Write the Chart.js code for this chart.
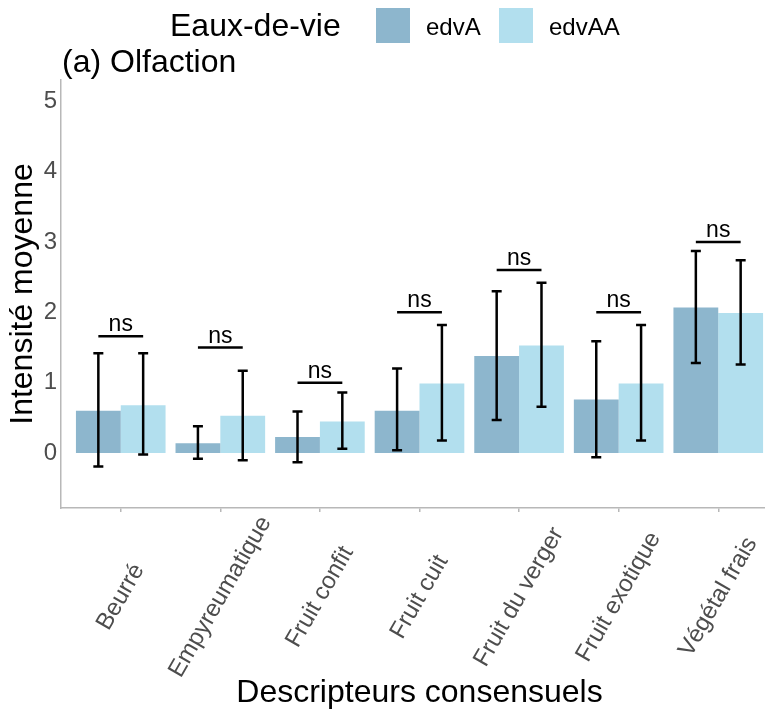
<!DOCTYPE html>
<html>
<head>
<meta charset="utf-8">
<script src="https://cdn.jsdelivr.net/npm/chart.js@4.4.0/dist/chart.umd.min.js"></script>
<style>
  html, body { margin: 0; padding: 0; background: #fff; overflow: hidden; }
  #wrap { width: 765px; height: 716px; overflow: hidden; }
</style>
</head>
<body>
<div id="wrap"><canvas id="olfaction" width="780" height="716"></canvas></div>
<script>
// Descriptors and mean intensities
const categories = ['Beurré', 'Empyreumatique', 'Fruit confit', 'Fruit cuit', 'Fruit du verger', 'Fruit exotique', 'Végétal frais'];
const edvA = [0.60, 0.14, 0.23, 0.60, 1.38, 0.76, 2.07];
const edvAA = [0.68, 0.53, 0.45, 0.99, 1.53, 0.99, 1.99];
const edvALow = [-0.19, -0.08, -0.13, 0.04, 0.47, -0.06, 1.28];
const edvAHigh = [1.42, 0.38, 0.59, 1.20, 2.30, 1.59, 2.87];
const edvAALow = [-0.02, -0.10, 0.06, 0.18, 0.66, 0.18, 1.26];
const edvAAHigh = [1.42, 1.17, 0.86, 1.82, 2.42, 1.82, 2.74];
const nsLevel = [1.66, 1.50, 1.00, 2.00, 2.60, 2.00, 3.00];
const yTicks = [0, 1, 2, 3, 4, 5];

const FONT = '"Liberation Sans", Arial, sans-serif';
const colours = { edvA: '#8DB6CD', edvAA: '#B2DFEE', axis: '#b8b8b8', label: '#4d4d4d' };

Chart.defaults.font.family = FONT;

// error bars + "ns" brackets, placed with the chart's own scales
const errorBars = {
  id: 'errorBars',
  afterDatasetsDraw(chart) {
    const ctx = chart.ctx;
    const y = chart.scales.y;
    const ranges = [[edvALow, edvAHigh], [edvAALow, edvAAHigh]];
    ctx.save();
    ctx.strokeStyle = '#000';
    ctx.lineWidth = 2.5;
    ranges.forEach(([lo, hi], d) => {
      chart.getDatasetMeta(d).data.forEach((bar, i) => {
        const top = y.getPixelForValue(hi[i]);
        const bot = y.getPixelForValue(lo[i]);
        ctx.beginPath();
        ctx.moveTo(bar.x, top); ctx.lineTo(bar.x, bot);
        ctx.moveTo(bar.x - 5, top); ctx.lineTo(bar.x + 5, top);
        ctx.moveTo(bar.x - 5, bot); ctx.lineTo(bar.x + 5, bot);
        ctx.stroke();
      });
    });
    const a = chart.getDatasetMeta(0).data;
    const b = chart.getDatasetMeta(1).data;
    ctx.font = '23px ' + FONT;
    ctx.fillStyle = '#000';
    ctx.textAlign = 'center';
    ctx.textBaseline = 'alphabetic';
    nsLevel.forEach((v, i) => {
      const py = y.getPixelForValue(v);
      ctx.beginPath();
      ctx.moveTo(a[i].x, py); ctx.lineTo(b[i].x, py);
      ctx.stroke();
      ctx.fillText('ns', (a[i].x + b[i].x) / 2, py - 5);
    });
    ctx.restore();
  }
};

// rotated, centred category labels + title + legend
const decorations = {
  id: 'decorations',
  afterDraw(chart) {
    const ctx = chart.ctx;
    const x = chart.scales.x;
    ctx.save();
    ctx.font = '24px ' + FONT;
    ctx.fillStyle = colours.label;
    ctx.textAlign = 'center';
    ctx.textBaseline = 'middle';
    categories.forEach((c, i) => {
      ctx.save();
      ctx.translate(x.getPixelForValue(i + 1), 597);
      ctx.rotate(-Math.PI / 3);
      ctx.fillText(c, 0, 0);
      ctx.restore();
    });

    ctx.fillStyle = '#000';
    ctx.textAlign = 'left';
    ctx.textBaseline = 'alphabetic';
    ctx.font = '32px ' + FONT;
    ctx.fillText('(a) Olfaction', 62, 72);
    ctx.fillText('Eaux-de-vie', 170, 36);

    const items = [['edvA', colours.edvA, 376], ['edvAA', colours.edvAA, 499]];
    ctx.font = '24px ' + FONT;
    items.forEach(([name, col, left]) => {
      ctx.fillStyle = col;
      ctx.fillRect(left, 8, 34, 35);
      ctx.fillStyle = '#000';
      ctx.fillText(name, left + 50, 35);
    });
    ctx.restore();
  }
};

const ctx = document.getElementById('olfaction').getContext('2d');

new Chart(ctx, {
  type: 'bar',
  data: {
    datasets: [
      {
        label: 'edvA',
        data: edvA.map((v, i) => ({ x: i + 1, y: v })),
        backgroundColor: colours.edvA,
        barPercentage: 1,
        categoryPercentage: 0.9
      },
      {
        label: 'edvAA',
        data: edvAA.map((v, i) => ({ x: i + 1, y: v })),
        backgroundColor: colours.edvAA,
        barPercentage: 1,
        categoryPercentage: 0.9
      }
    ]
  },
  options: {
    responsive: false,
    animation: false,
    layout: { padding: { top: 80, left: 0, right: 2, bottom: 0 } },
    plugins: {
      legend: { display: false },
      title: { display: false },
      tooltip: { enabled: false }
    },
    scales: {
      x: {
        type: 'linear',
        min: 0.4,
        max: 7.6,
        offset: false,
        afterBuildTicks: s => { s.ticks = categories.map((c, i) => ({ value: i + 1 })); },
        afterFit: s => { s.height = 208; },
        ticks: { display: false },
        grid: { offset: false, drawOnChartArea: false, drawTicks: true, tickLength: 4, color: colours.axis, lineWidth: 1.5 },
        border: { color: colours.axis, width: 1.5 },
        title: {
          display: true,
          text: 'Descripteurs consensuels',
          color: '#000',
          font: { size: 32 },
          padding: { top: 0, bottom: 4 }
        }
      },
      y: {
        min: -0.78,
        max: 5.3,
        afterBuildTicks: s => { s.ticks = yTicks.map(v => ({ value: v })); },
        afterFit: s => { s.width = 61; },
        ticks: { color: colours.label, font: { size: 24 }, padding: 4 },
        grid: { display: false, drawTicks: false, tickLength: 0 },
        border: { display: true, color: colours.axis, width: 1.5 },
        title: {
          display: true,
          text: 'Intensité moyenne',
          color: '#000',
          font: { size: 32 },
          padding: { top: 4, bottom: 0 }
        }
      }
    }
  },
  plugins: [errorBars, decorations]
});
</script>
</body>
</html>
